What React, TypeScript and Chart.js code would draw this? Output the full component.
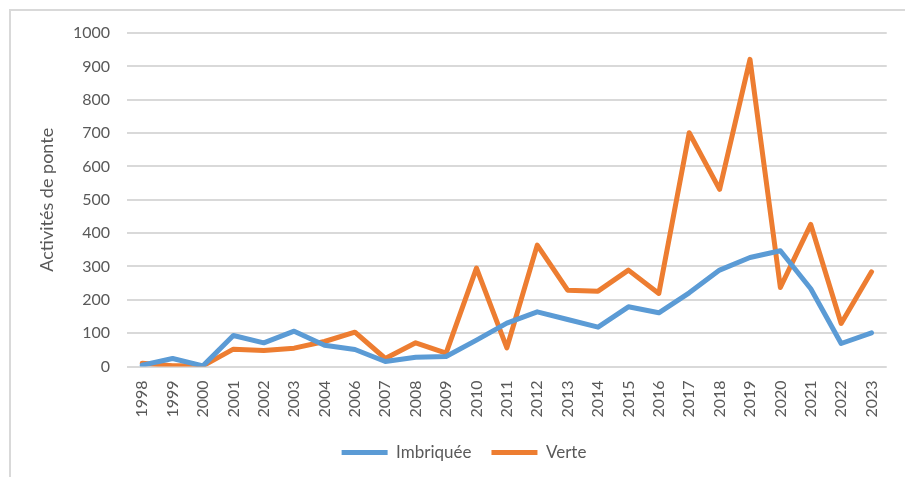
import React, { useEffect, useRef } from "react";
import { Chart, registerables } from "chart.js";

Chart.register(...registerables);

const years = [
  "1998", "1999", "2000", "2001", "2002", "2003", "2004", "2006", "2007",
  "2008", "2009", "2010", "2011", "2012", "2013", "2014", "2015", "2016",
  "2017", "2018", "2019", "2020", "2021", "2022", "2023",
];
const imbriquee = [
  4, 24, 2, 93, 71, 106, 64, 51, 15, 28, 30, 79, 130, 164, 141, 118, 179, 161,
  221, 289, 327, 347, 233, 69, 101,
];
const verte = [
  10, 2, 2, 52, 48, 55, 75, 103, 24, 71, 40, 295, 56, 364, 229, 226, 289, 219,
  701, 531, 921, 237, 426, 129, 284,
];
const yMin = 0;
const yMax = 1000;
const yStep = 100;

const TEXT = "#595959";
const FONT = "Lato";

export default function App() {
  const ref = useRef<HTMLCanvasElement | null>(null);

  useEffect(() => {
    if (!ref.current) return;
    const chart = new Chart(ref.current, {
      type: "line",
      data: {
        labels: years,
        datasets: [
          {
            label: "Imbriquée",
            data: imbriquee,
            borderColor: "#5B9BD5",
            backgroundColor: "#5B9BD5",
            borderWidth: 5,
            pointRadius: 0,
            tension: 0,
            borderJoinStyle: "round",
            borderCapStyle: "round",
          },
          {
            label: "Verte",
            data: verte,
            borderColor: "#ED7D31",
            backgroundColor: "#ED7D31",
            borderWidth: 5,
            pointRadius: 0,
            tension: 0,
            borderJoinStyle: "round",
            borderCapStyle: "round",
          },
        ],
      },
      options: {
        animation: false,
        responsive: true,
        maintainAspectRatio: false,
        layout: { padding: { left: 36, right: 13, top: 33, bottom: 6 } },
        scales: {
          x: {
            offset: true,
            grid: { display: false, drawTicks: false },
            border: { display: false },
            ticks: {
              minRotation: 90,
              maxRotation: 90,
              autoSkip: false,
              padding: 14,
              color: TEXT,
              font: { family: FONT, size: 16 },
            },
            afterFit: (s: any) => {
              s.height = 57.5;
            },
          },
          y: {
            min: yMin,
            max: yMax,
            ticks: {
              stepSize: yStep,
              padding: 17,
              color: TEXT,
              font: { family: FONT, size: 16 },
              callback: (v: any) => String(v),
            },
            grid: { color: "#d9d9d9", lineWidth: 2, drawTicks: false },
            border: { display: false },
            title: {
              display: true,
              text: "Activités de ponte",
              color: TEXT,
              font: { family: FONT, size: 18 },
              padding: { top: 0, bottom: 0 },
            },
            afterFit: (s: any) => {
              s.width = 91;
            },
          },
        },
        plugins: {
          legend: {
            position: "bottom",
            labels: {
              usePointStyle: true,
              pointStyle: "line",
              pointStyleWidth: 46,
              padding: 20,
              color: TEXT,
              font: { family: FONT, size: 17 },
            },
          },
          tooltip: { enabled: false },
        },
      },
    });
    return () => chart.destroy();
  }, []);

  return (
    <div style={{ position: "absolute", left: 0, top: 0, width: 905, height: 477 }}>
      <div
        style={{
          position: "absolute",
          left: 9,
          top: 9,
          width: 896,
          height: 468,
          boxSizing: "border-box",
          borderLeft: "2px solid #d9d9d9",
          borderTop: "2px solid #d9d9d9",
        }}
      />
      <div style={{ position: "absolute", left: 0, top: 0, width: 905, height: 477 }}>
        <canvas ref={ref} />
      </div>
    </div>
  );
}
